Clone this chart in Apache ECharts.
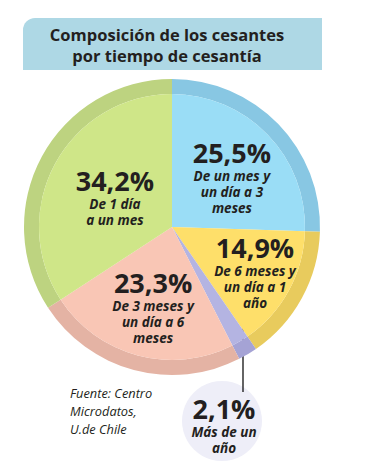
<!DOCTYPE html>
<html>
<head>
<meta charset="utf-8">
<script src="https://cdn.jsdelivr.net/npm/echarts@6/dist/echarts.min.js"></script>
<style>
html,body{margin:0;padding:0;background:#ffffff;}
#chart{width:365px;height:472px;}
</style>
</head>
<body>
<div id="chart"></div>
<script>
// ---- data ----
var titleText = 'Composición de los cesantes\npor tiempo de cesantía';
var categories = ['De un mes y un día a 3 meses', 'De 6 meses y un día a 1 año', 'Más de un año', 'De 3 meses y un día a 6 meses', 'De 1 día a un mes'];
var values = [25.5, 14.9, 2.1, 23.3, 34.2];
var labelTexts = ['De un mes y\nun día a 3\nmeses', 'De 6 meses y\nun día a 1\naño', 'Más de un\naño', 'De 3 meses y\nun día a 6\nmeses', 'De 1 día\na un mes'];
var sourceText = 'Fuente: Centro\nMicrodatos,\nU.de Chile';

// ---- styles ----
var innerColors = ['#9ADDF6', '#FEDF6A', '#B4B4E2', '#F9C6B5', '#CFE688'];
var ringColors  = ['#88C7E3', '#E8CB5D', '#A5A3D5', '#E4B3A4', '#BDD380'];
var labelOffsets = [[10, -2], [22, 11], [0, 0], [-1, 12], [4, 3]];
var ink = '#231F20';
var fontFam = '"Open Sans", "Noto Sans", sans-serif';
var center = [172, 227];

function fmt(v) { return v.toFixed(1).replace('.', ',') + '%'; }

var innerData = values.map(function (v, i) {
  var item = { name: categories[i], value: v, itemStyle: { color: innerColors[i] } };
  if (i === 2) {
    item.label = { position: 'outside' };
    item.labelLine = { show: true, lineStyle: { color: '#111111', width: 1.3 } };
  }
  return item;
});
var ringData = values.map(function (v, i) {
  return { name: categories[i], value: v, itemStyle: { color: ringColors[i] } };
});

var chart = echarts.init(document.getElementById('chart'), null, { renderer: 'svg' });
chart.setOption({
  backgroundColor: '#ffffff',
  animation: false,
  graphic: [
    {
      type: 'rect', z: 0,
      shape: { x: 23, y: 18, width: 299, height: 52, r: [12, 0, 0, 0] },
      style: { fill: '#AED8E5' }
    },
    {
      type: 'text', z: 1,
      style: {
        text: titleText, x: 167, y: 45, align: 'center', verticalAlign: 'middle',
        font: 'bold 16.5px ' + fontFam, lineHeight: 21, fill: ink
      }
    },
    {
      type: 'circle', z: 0,
      shape: { cx: 222, cy: 421, r: 40 },
      style: { fill: '#EEEEF8' }
    },
    {
      type: 'text', z: 1,
      style: {
        text: sourceText, x: 70, y: 411, align: 'left', verticalAlign: 'middle',
        font: 'italic 12.8px ' + fontFam, lineHeight: 18, fill: ink
      }
    }
  ],
  series: [
    {
      type: 'pie', name: 'ring', silent: true,
      center: center, radius: [133, 148], startAngle: 90, clockwise: true,
      label: { show: false }, labelLine: { show: false },
      emphasis: { disabled: true },
      data: ringData
    },
    {
      type: 'pie', name: 'inner', silent: true,
      center: center, radius: [0, 133], startAngle: 90, clockwise: true,
      emphasis: { disabled: true },
      labelLine: { show: false },
      label: {
        show: true, position: 'inside', align: 'center',
        formatter: function (p) { return '{p|' + fmt(p.value) + '}\n{s|' + labelTexts[p.dataIndex].split('\n').join('}\n{s|') + '}'; },
        rich: {
          p: { fontFamily: fontFam, fontWeight: 'bold', fontSize: 27, lineHeight: 31, color: ink, align: 'center' },
          s: { fontFamily: fontFam, fontWeight: 'bold', fontStyle: 'italic', fontSize: 13.5, lineHeight: 16, color: ink, align: 'center' }
        }
      },
      labelLayout: function (params) {
        var i = params.dataIndex;
        if (i === 2) {
          return {
            x: 224, y: 424, align: 'center', verticalAlign: 'middle',
            labelLinePoints: [[243, 323], [243, 392], [243, 392]]
          };
        }
        return { dx: labelOffsets[i][0], dy: labelOffsets[i][1] };
      },
      data: innerData
    }
  ]
});
</script>
</body>
</html>
